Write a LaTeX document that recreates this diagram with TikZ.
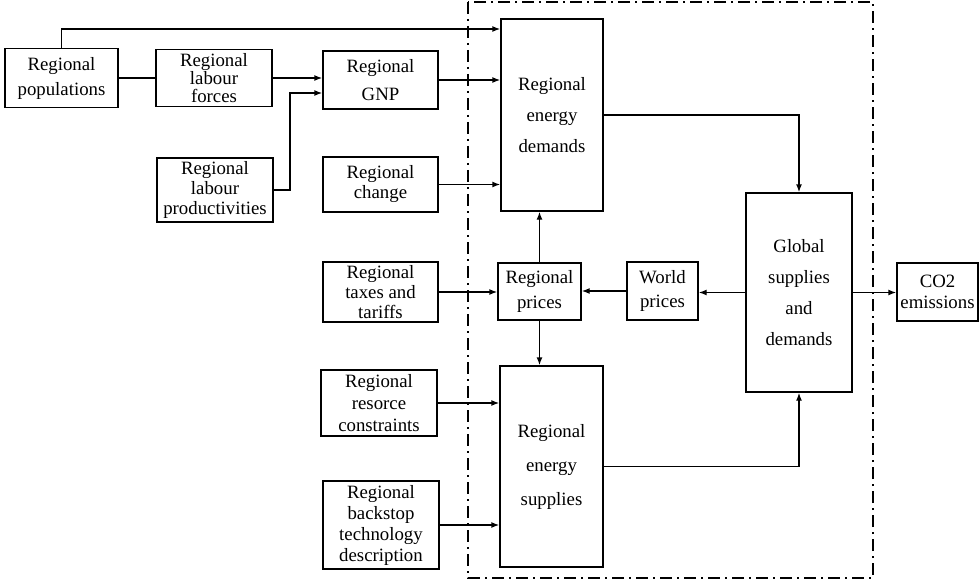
\documentclass[tikz,border=0pt]{standalone}
\usepackage{fontspec}
\setmainfont{Liberation Serif}
\newfontfamily\boxfont{Liberation Serif}
\usetikzlibrary{arrows.meta}
\begin{document}
\begin{tikzpicture}[x=0.5pt,y=-0.5pt,
  box/.style={draw, line width=0.7pt, align=center, inner sep=0pt},
  ls/.style={font=\boxfont\fontsize{9.4}{#1}\selectfont},
  link/.style={line width=0.7pt, -{Latex[length=4pt,width=3pt]}},
  plain/.style={line width=0.7pt},
  frame/.style={line width=0.7pt, dash pattern=on 6pt off 2.5pt on 1pt off 2.5pt}]
\useasboundingbox (0,0) rectangle (980,583);

% regional module boundary
\draw[frame] (468,2) rectangle (873,578);

% input boxes
\node[box, ls=12.5, minimum width=56.5pt, minimum height=29.5pt] (pop) at (61.5,78) {Regional\\populations};
\node[box, ls=9, minimum width=58pt, minimum height=28.5pt] (lab) at (214,78) {Regional\\labour\\forces};
\node[box, ls=14, minimum width=57.5pt, minimum height=29pt] (gnp) at (380.5,80) {Regional\\GNP};
\node[box, ls=10, minimum width=58pt, minimum height=32pt] (prod) at (215,190) {Regional\\labour\\productivities};
\node[box, ls=10, minimum width=57.5pt, minimum height=27.5pt] (chg) at (380.5,184.5) {Regional\\change};
\node[box, ls=10, minimum width=57.5pt, minimum height=30pt] (tax) at (380.5,292) {Regional\\taxes and\\tariffs};
\node[box, ls=11, minimum width=58pt, minimum height=33pt] (res) at (379,403) {Regional\\resorce\\constraints};
\node[box, ls=10.5, minimum width=58pt, minimum height=44pt] (bak) at (381,525) {Regional\\backstop\\technology\\description};

% inside the boundary
\node[box, ls=15.5, minimum width=51pt, minimum height=96pt] (dem) at (552,115) {Regional\\energy\\demands};
\node[box, ls=12.5, minimum width=41.5pt, minimum height=28.5pt] (pri) at (539.5,291.5) {Regional\\prices};
\node[box, ls=17, minimum width=51.5pt, minimum height=100.5pt] (sup) at (551.5,466.5) {Regional\\energy\\supplies};
\node[box, ls=12, minimum width=35.5pt, minimum height=29pt] (wld) at (662.5,291) {World\\prices};
\node[box, ls=15.5, minimum width=53pt, minimum height=99.5pt] (glb) at (799,292.5) {Global\\supplies\\and\\demands};

% output
\node[box, ls=10.5, minimum width=40.5pt, minimum height=29pt] (co2) at (937.5,292) {CO2\\emissions};

% connectors
\coordinate (toprow) at (0,29);
\coordinate (bend) at (290,93);
\draw[link] (pop.north) |- (toprow -| dem.west);
\draw[plain] (pop.east) -- (lab.west);
\draw[link] (lab.east) -- (lab.east -| gnp.west);
\draw[link] (gnp.east) -- (gnp.east -| dem.west);
\draw[link] (prod.east) -| (bend) -- (bend -| gnp.west);
\draw[link] (chg.east) -- (chg.east -| dem.west);
\draw[link] (tax.east) -- (tax.east -| pri.west);
\draw[link] (wld.west) -- (wld.west -| pri.east);
\draw[link] (glb.west) -- (glb.west -| wld.east);
\draw[link] (glb.east) -- (glb.east -| co2.west);
\draw[link] (pri.north) -- (pri.north |- dem.south);
\draw[link] (pri.south) -- (pri.south |- sup.north);
\draw[link] (dem.east) -| (glb.north);
\draw[link] (sup.east) -| (glb.south);
\draw[link] (res.east) -- (res.east -| sup.west);
\draw[link] (bak.east) -- (bak.east -| sup.west);
\end{tikzpicture}
\end{document}
